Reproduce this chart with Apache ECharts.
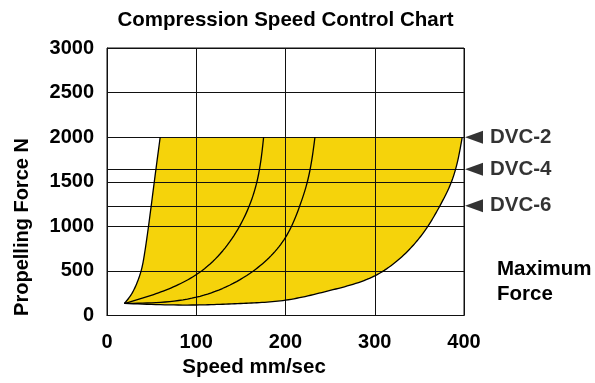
<!DOCTYPE html>
<html><head><meta charset="utf-8">
<script src="https://cdn.jsdelivr.net/npm/echarts@6/dist/echarts.min.js"></script>
<style>html,body{margin:0;padding:0;background:#fff}#c{width:595px;height:383px}</style>
</head><body><div id="c"></div>
<script>
// ---- data (speed mm/sec, force N) ----
const xTicks = [0, 100, 200, 300, 400];
const yTicks = [0, 500, 1000, 1500, 2000, 2500, 3000];
const leftCurve = [[19.5,135],[26.6,226],[33.1,354],[38.2,500],[42.0,690],[46.5,1000],[53,1500],[59.6,2000]];
const outerCurve = [[19.5,135],[100,118],[153,136],[200,172],[250,281],[300,445],[339,743],[359.5,1000],[373,1230],[386,1500],[398,2000]];
const curveA = [[19.5,135],[63,274],[106,500],[148.5,1000],[168,1500],[175.5,2000]];
const curveB = [[19.5,135],[100,205],[164,500],[200,876],[216,1230],[224.5,1500],[233,2000]];
const dvcLabels = ['DVC-2', 'DVC-4', 'DVC-6'];
const dvcForce = [2000, 1640, 1230];
const dvcSpeed = 400;
const refLines = [1640, 1230];
const titleText = 'Compression Speed Control Chart';
const xName = 'Speed mm/sec';
const yName = 'Propelling Force N';
const noteText = 'Maximum\nForce';

const FONT = 'Liberation Sans, Arial, sans-serif';
const INK = '#111';
const FILL = '#F5D30B';

// natural cubic spline (chord-length parameter) through pixel points: rendering only
function splinePx(pts, n) {
  const m = pts.length;
  const t = [0];
  for (let i = 1; i < m; i++) t.push(t[i-1] + Math.max(Math.hypot(pts[i][0]-pts[i-1][0], pts[i][1]-pts[i-1][1]), 1e-3));
  function second(vals) {
    const M = new Array(m).fill(0);
    if (m < 3) return M;
    const a = [], b = [], c = [], r = [];
    for (let i = 1; i < m - 1; i++) {
      const h0 = t[i]-t[i-1], h1 = t[i+1]-t[i];
      a.push(h0); b.push(2*(h0+h1)); c.push(h1);
      r.push(6*((vals[i+1]-vals[i])/h1 - (vals[i]-vals[i-1])/h0));
    }
    const k = b.length;
    for (let i = 1; i < k; i++) { const w = a[i]/b[i-1]; b[i] -= w*c[i-1]; r[i] -= w*r[i-1]; }
    const x = new Array(k);
    x[k-1] = r[k-1]/b[k-1];
    for (let i = k-2; i >= 0; i--) x[i] = (r[i] - c[i]*x[i+1])/b[i];
    for (let i = 0; i < k; i++) M[i+1] = x[i];
    return M;
  }
  const xs = pts.map(p => p[0]), ys = pts.map(p => p[1]);
  const Mx = second(xs), My = second(ys);
  const out = [pts[0].slice()];
  for (let i = 0; i < m - 1; i++) {
    const h = t[i+1]-t[i];
    for (let s = 1; s <= n; s++) {
      const bb = s/n, aa = 1 - bb;
      const f = (v, M) => aa*v[i] + bb*v[i+1] + ((aa*aa*aa-aa)*M[i] + (bb*bb*bb-bb)*M[i+1])*h*h/6;
      out.push([f(xs, Mx), f(ys, My)]);
    }
  }
  return out;
}

const chart = echarts.init(document.getElementById('c'), null, {renderer: 'canvas'});
const labelStyle = {fontFamily: FONT, fontWeight: 'bold', fontSize: 20, color: '#000'};

chart.setOption({
  animation: false,
  backgroundColor: '#fff',
  grid: {left: 107, top: 48, width: 357, height: 267.5, show: true, borderColor: INK, borderWidth: 1, backgroundColor: 'transparent'},
  xAxis: {
    type: 'value', min: xTicks[0], max: xTicks[xTicks.length-1], interval: 100,
    axisLine: {show: true, lineStyle: {color: INK, width: 1}},
    axisTick: {show: false},
    splitLine: {show: true, lineStyle: {color: INK, width: 1}},
    axisLabel: Object.assign({margin: 17, formatter: v => String(v)}, labelStyle)
  },
  yAxis: {
    type: 'value', min: yTicks[0], max: yTicks[yTicks.length-1], interval: 500,
    axisLine: {show: true, lineStyle: {color: INK, width: 1}},
    axisTick: {show: false},
    splitLine: {show: true, lineStyle: {color: INK, width: 1}},
    axisLabel: Object.assign({margin: 13, formatter: v => String(v)}, labelStyle)
  },
  graphic: [
    {type: 'text', x: 285.5, y: 20.5, style: {text: titleText, fontFamily: FONT, fontWeight: 'bold', fontSize: 20.5, fill: '#000', textAlign: 'center', textVerticalAlign: 'middle'}},
    {type: 'text', x: 254, y: 367, style: {text: xName, fontFamily: FONT, fontWeight: 'bold', fontSize: 20.5, fill: '#000', textAlign: 'center', textVerticalAlign: 'middle'}},
    {type: 'text', x: 22, y: 227, rotation: Math.PI/2, style: {text: yName, fontFamily: FONT, fontWeight: 'bold', fontSize: 20, fill: '#000', textAlign: 'center', textVerticalAlign: 'middle'}},
    {type: 'text', x: 497, y: 282, style: {text: noteText, fontFamily: FONT, fontWeight: 'bold', fontSize: 20.5, lineHeight: 25, fill: '#000', textAlign: 'left', textVerticalAlign: 'middle'}}
  ],
  series: [
    {
      type: 'custom', z: -1, silent: true, data: [[0, 0]],
      renderItem: function (params, api) {
        const L = splinePx(leftCurve.map(p => api.coord(p)), 16);
        const O = splinePx(outerCurve.map(p => api.coord(p)), 16);
        return {type: 'polygon', shape: {points: L.concat(O.slice().reverse())}, style: {fill: FILL, stroke: null}};
      }
    },
    {
      type: 'custom', z: 5, silent: true, data: [[0, 0]],
      renderItem: function (params, api) {
        const curves = [leftCurve, outerCurve, curveA, curveB];
        return {type: 'group', children: curves.map(c => ({
          type: 'polyline', shape: {points: splinePx(c.map(p => api.coord(p)), 16)},
          style: {fill: null, stroke: '#000', lineWidth: 1.3, lineJoin: 'round'}
        }))};
      }
    },
    {
      type: 'scatter', clip: false, silent: true, z: 6,
      data: dvcForce.map((f, i) => ({value: [dvcSpeed, f], name: dvcLabels[i]})),
      symbol: 'triangle', symbolSize: [13, 18], symbolRotate: 90, symbolOffset: [10, 0],
      itemStyle: {color: '#000'},
      label: {show: true, position: 'right', distance: 7, formatter: '{b}', fontFamily: FONT, fontWeight: 'bold', fontSize: 20.5, color: '#000'},
      markLine: {
        silent: true, symbol: ['none', 'none'], label: {show: false},
        lineStyle: {color: INK, width: 1, type: 'solid'},
        data: refLines.map(v => ({yAxis: v}))
      }
    }
  ]
});
</script>
</body></html>
